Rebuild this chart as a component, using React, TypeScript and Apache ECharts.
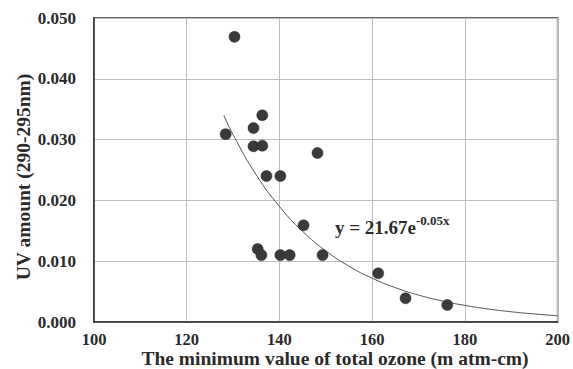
import React, { useEffect, useRef } from "react";
import * as echarts from "echarts";

const ozoneX = [130.3, 128.4, 134.4, 136.3, 134.4, 136.3, 137.2, 140.2, 148.2, 145.2, 135.3, 136.1, 140.2, 142.2, 149.3, 161.3, 167.2, 176.2];
const uvY = [0.0469, 0.0309, 0.0319, 0.034, 0.0289, 0.029, 0.024, 0.024, 0.0278, 0.0159, 0.012, 0.011, 0.011, 0.011, 0.011, 0.008, 0.0039, 0.0028];

const curveX = [128, 130, 135, 140, 145, 150, 155, 160, 165, 170, 175, 180, 185, 190, 195, 200];
const curveY = [0.034, 0.0308, 0.0242, 0.019, 0.01491, 0.0117, 0.00918, 0.0072, 0.00565, 0.00443, 0.00348, 0.00273, 0.00214, 0.00168, 0.00132, 0.00103];

const FONT = "'Liberation Serif', 'Times New Roman', serif";

export default function App() {
  const ref = useRef<HTMLDivElement>(null);
  useEffect(() => {
    const chart = echarts.init(ref.current!, null, { renderer: "svg" });
    chart.setOption({
      animation: false,
      backgroundColor: "#ffffff",
      grid: { left: 94, top: 18, right: 14, bottom: 47, show: true, borderColor: "#333", borderWidth: 1.5 },
      xAxis: {
        type: "value",
        min: 100,
        max: 200,
        interval: 20,
        axisLine: { show: true, lineStyle: { color: "#333", width: 1.5 } },
        axisTick: { show: false },
        splitLine: { show: true, lineStyle: { color: "#bdbdbd", width: 1 } },
        axisLabel: { color: "#2a2a2a", fontFamily: FONT, fontWeight: "bold", fontSize: 16.5, margin: 10, lineHeight: 14 },
      },
      yAxis: {
        type: "value",
        min: 0,
        max: 0.05,
        interval: 0.01,
        axisLine: { show: true, lineStyle: { color: "#333", width: 1.5 } },
        axisTick: { show: false },
        splitLine: { show: true, lineStyle: { color: "#bdbdbd", width: 1 } },
        axisLabel: {
          color: "#2a2a2a",
          fontFamily: FONT,
          fontWeight: "bold",
          fontSize: 17,
          margin: 18,
          formatter: (v: number) => v.toFixed(3),
        },
      },
      series: [
        {
          type: "line",
          data: curveX.map((x, i) => [x, curveY[i]]),
          smooth: true,
          showSymbol: false,
          symbol: "none",
          lineStyle: { color: "#555", width: 1 },
          z: 2,
        },
        {
          type: "scatter",
          data: ozoneX.map((x, i) => [x, uvY[i]]),
          symbolSize: 11,
          itemStyle: { color: "#3a3a3a", borderColor: "#222", borderWidth: 0.5, opacity: 1 },
          z: 3,
        },
      ],
      graphic: [
        {
          type: "text",
          left: 335,
          top: 214,
          style: {
            text: "{m|y = 21.67e}{s|-0.05x}",
            rich: {
              m: { fontFamily: FONT, fontWeight: "bold", fontSize: 19, fill: "#2a2a2a", verticalAlign: "bottom", lineHeight: 23 },
              s: { fontFamily: FONT, fontWeight: "bold", fontSize: 13, fill: "#2a2a2a", verticalAlign: "top", lineHeight: 23, padding: [0, 0, 10, 0] },
            },
          },
          z: 10,
        },
        {
          type: "text",
          x: 335,
          y: 358.7,
          style: {
            text: "The minimum value of total ozone (m atm-cm)",
            fontFamily: FONT,
            fontWeight: "bold",
            fontSize: 19.5,
            fill: "#2a2a2a",
            textAlign: "center",
            textVerticalAlign: "middle",
          },
        },
        {
          type: "text",
          x: 23,
          y: 177,
          rotation: Math.PI / 2,
          style: {
            text: "UV amount (290-295nm)",
            fontFamily: FONT,
            fontWeight: "bold",
            fontSize: 19.5,
            fill: "#2a2a2a",
            textAlign: "center",
            textVerticalAlign: "middle",
          },
        },
      ],
    });
    return () => chart.dispose();
  }, []);
  return <div ref={ref} style={{ position: "fixed", left: 0, top: 0, width: 573, height: 369 }} />;
}
